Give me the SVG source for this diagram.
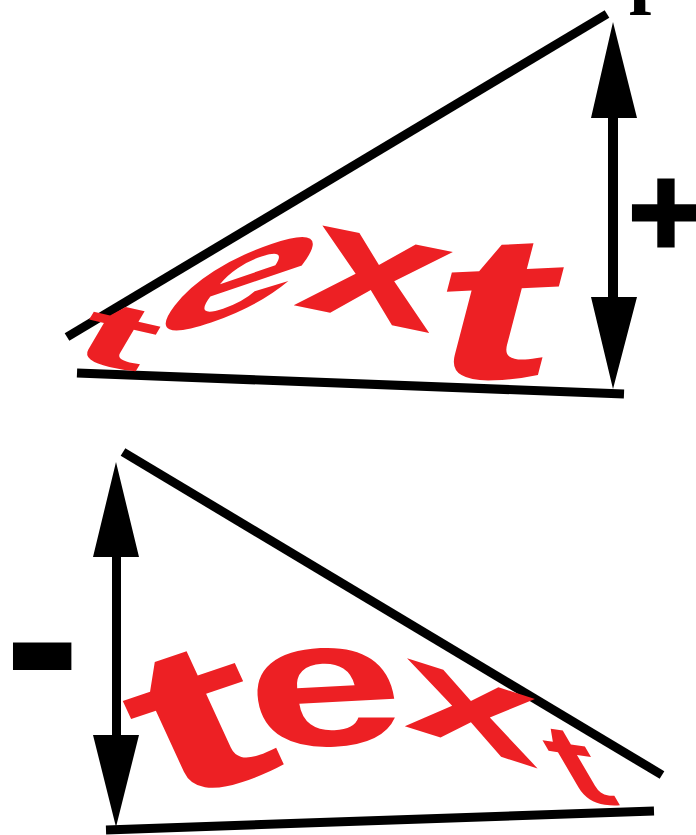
<svg xmlns="http://www.w3.org/2000/svg" width="696" height="835" viewBox="0 0 696 835">
<style>
.ln{stroke:#000;stroke-width:9;stroke-linecap:butt;fill:none}
.ar{fill:#000}
.wt{font-family:"Liberation Sans",Arial,sans-serif;font-weight:bold;font-size:100px;fill:#ED2024}
.sg{font-family:"Liberation Sans",Arial,sans-serif;font-weight:bold;fill:#000}
.ttl{font-family:"Liberation Serif","Times New Roman",serif;font-weight:bold;fill:#000}
</style>
<rect width="696" height="835" fill="#fff"/>
<text class="ttl" x="629" y="-2" font-size="80">p</text>
<g id="top-figure">
  <g id="top-lines">
    <line class="ln" x1="67" y1="337" x2="607" y2="14"/>
    <line class="ln" x1="77" y1="373" x2="624" y2="394"/>
  </g>
  <g id="top-arrow">
    <polygon class="ar" points="613,22 637,118 618,118 618,297 637,297 613,389 591,297 608,297 608,118 591,118"/>
  </g>
  <g id="top-sign"><text class="sg" x="628" y="256" font-size="130" stroke="#000" stroke-width="3">+</text></g>
  <g id="top-text">
    <text class="wt" transform="matrix(2.2,0.5,-0.5,0.85,64.8,356)">t</text>
    <text class="wt" transform="matrix(2.7,-0.92,-1.09,1.43,135,347.4)">e</text>
    <text class="wt" transform="matrix(2.5,0.51,-0.5,1.52,292,305)">x</text>
    <text class="wt" transform="matrix(3.7,-0.17,-0.54,2.07,418.8,382)">t</text>
  </g>
</g>
<g id="bottom-figure">
  <g id="bottom-lines">
    <line class="ln" x1="123" y1="452" x2="662" y2="775"/>
    <line class="ln" x1="106" y1="830" x2="654" y2="811"/>
  </g>
  <g id="bottom-arrow">
    <polygon class="ar" points="116,462 139,557 121,557 121,735 139,735 116,827 93,735 112,735 112,557 93,557"/>
  </g>
  <g id="bottom-sign"><text class="sg" x="4" y="716" font-size="230">-</text></g>
  <g id="bottom-text">
    <text class="wt" transform="matrix(3.7,-1.25,0.9,1.96,165.8,806)">t</text>
    <text class="wt" transform="matrix(2.8,-0.15,0.28,1.8,254.7,749.3)">e</text>
    <text class="wt" transform="matrix(2.45,0.78,0,1.3,403.1,725.6)">x</text>
    <text class="wt" transform="matrix(1.4,0.2,0.657,1.129,575.6,799.8)">t</text>
  </g>
</g>
</svg>
